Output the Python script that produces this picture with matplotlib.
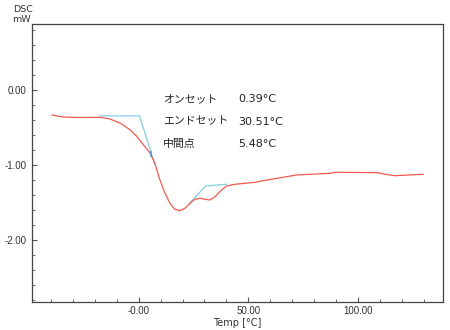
import matplotlib
matplotlib.use("Agg")
import matplotlib.pyplot as plt
from matplotlib.ticker import MultipleLocator

plt.rcParams['font.family'] = ['DejaVu Sans', 'Noto Sans CJK JP']
plt.rcParams['axes.unicode_minus'] = False

# --- DSC curve ---
temp = [-39.5, -34.5, -26.8, -17.6, -13.1, -8.5, -4.0, -0.9, 2.1, 5.2, 7.4, 9.7,
        12.0, 14.3, 16.5, 18.8, 21.1, 23.4, 25.7, 27.9, 30.2, 32.5, 34.8, 37.8,
        40.1, 43.9, 53.0, 56.7, 72.1, 87.2, 89.5, 100.0, 109.0, 112.3, 116.8,
        123.7, 129.6]
dsc = [-0.333, -0.36, -0.367, -0.364, -0.387, -0.44, -0.529, -0.617, -0.729,
       -0.84, -0.977, -1.2, -1.377, -1.511, -1.591, -1.609, -1.577, -1.511,
       -1.457, -1.444, -1.457, -1.467, -1.423, -1.333, -1.28, -1.257, -1.231,
       -1.209, -1.133, -1.111, -1.097, -1.1, -1.103, -1.124, -1.143, -1.133,
       -1.124]

# onset tangent construction
onset_x = [-17.6, 0.39, 7.4]
onset_y = [-0.345, -0.345, -0.996]
# endset tangent construction
endset_x = [23.4, 30.51, 40.1]
endset_y = [-1.503, -1.28, -1.257]
mid_x, mid_y = 5.48, -0.86

labels = ["オンセット", "エンドセット", "中間点"]
values = ["0.39°C", "30.51°C", "5.48°C"]

xticks = [0, 50, 100]
xticklabels = ["-0.00", "50.00", "100.00"]
yticks = [0, -1, -2]
yticklabels = ["0.00", "-1.00", "-2.00"]

W, H = 450, 330
fig = plt.figure(figsize=(4.5, 3.3), dpi=100)
ax = fig.add_axes([32 / W, 1 - 302.3 / H, (443 - 32) / W, (302.3 - 24.3) / H])

red = '#ef5a50'
blue = '#86cde6'
ax.plot(onset_x, onset_y, color=blue, lw=0.9)
ax.plot(endset_x, endset_y, color=blue, lw=0.9)
ax.plot(temp, dsc, color=red, lw=0.9)
ax.plot([mid_x], [mid_y], marker='|', color='#5a9ec8', ms=4, mew=1.2)

ax.set_xlim(-48.6, 138.7)
ax.set_ylim(-2.831, 0.876)

ax.set_xticks(xticks)
ax.set_xticklabels(xticklabels, fontfamily='Liberation Sans')
ax.set_yticks(yticks)
ax.set_yticklabels(yticklabels, fontfamily='Liberation Sans')
ax.xaxis.set_minor_locator(MultipleLocator(10))
ax.yaxis.set_minor_locator(MultipleLocator(0.2))
ax.tick_params(which='both', direction='in', color='#555555', labelsize=7,
               labelcolor='#333333', top=False, right=False)
ax.tick_params(which='major', length=3.5, width=0.8, pad=4)
ax.tick_params(axis='x', which='major', pad=2.5)
ax.tick_params(which='minor', length=2, width=0.6)

for s in ax.spines.values():
    s.set_color('#444444')
    s.set_linewidth(0.9)

# annotations
for i, (lab, val) in enumerate(zip(labels, values)):
    y = 99 + i * 22.6
    fig.text(163 / W, 1 - y / H, lab, fontsize=7.8, color='#222222', va='center',
             family=['Noto Sans CJK JP', 'DejaVu Sans'])
    fig.text(238 / W, 1 - y / H, val, fontsize=8, color='#222222', va='center')

fig.text(33 / W, 1 - 10 / H, "DSC", fontsize=6.8, color='#333333', ha='right', va='center')
fig.text(31 / W, 1 - 20 / H, "mW", fontsize=6.8, color='#333333', ha='right', va='center')
fig.text(237.5 / W, 1 - 322.5 / H, "Temp [°C]", fontsize=7, color='#333333', ha='center', va='center')

fig.savefig("out.png", dpi=100, facecolor='white')
